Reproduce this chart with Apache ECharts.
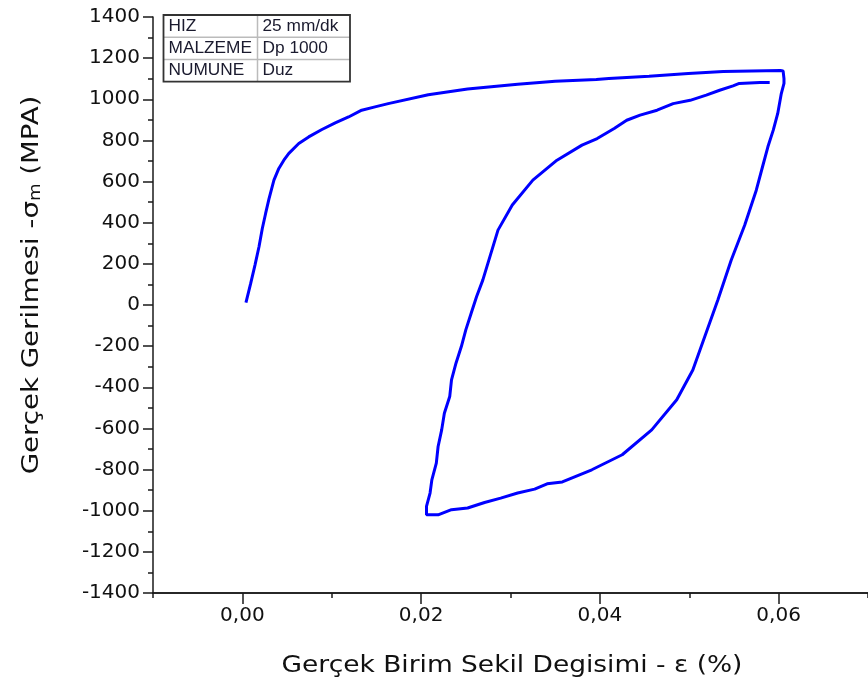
<!DOCTYPE html>
<html>
<head>
<meta charset="utf-8">
<script src="https://cdn.jsdelivr.net/npm/echarts@6/dist/echarts.min.js"></script>
<style>
html,body{margin:0;padding:0;background:#fff;}
#chart{width:868px;height:693px;}
</style>
</head>
<body>
<div id="chart"></div>
<script>
// Loading branch (strain, stress)
const loadStrain = [0.0004,0.00093,0.00141,0.00186,0.00223,0.0026,0.00297,0.00353,0.00408,0.00464,0.0052,0.00631,0.00742,0.0089,0.01039,0.01188,0.01335,0.01484,0.01632,0.0208,0.0252,0.0308,0.035,0.0396,0.041,0.0455,0.0499,0.0538,0.0602,0.0605];
const loadStress = [12,105,194,283,372,445,515,607,664,704,737,785,817,853,885,914,947,963,979,1022,1050,1073,1088,1096,1101,1112,1125,1135,1140,1138];
// Unloading branch (right side and bottom)
const unloadStrain = [0.0606,0.0606,0.0603,0.0599,0.0594,0.0588,0.0582,0.0575,0.0562,0.0547,0.0532,0.0518,0.0504,0.0486,0.0458,0.0425,0.0391,0.0358,0.0341,0.0327,0.0308,0.0289,0.0271,0.0252,0.0234,0.0219,0.0206];
const unloadStress = [1100,1077,1028,931,850,769,672,558,388,219,24,-146,-316,-461,-607,-728,-801,-860,-869,-895,-914,-939,-960,-987,-995,-1020,-1020];
// Reloading branch (left side and inner top)
const reloadStrain = [0.0206,0.021,0.0212,0.0217,0.0219,0.0223,0.0226,0.0232,0.0234,0.0239,0.0245,0.025,0.0256,0.0262,0.0269,0.0286,0.0302,0.0325,0.0352,0.038,0.0397,0.0416,0.043,0.0445,0.0464,0.0482,0.0501,0.0519,0.0534,0.0549,0.0556,0.0579,0.059];
const reloadStress = [-979,-914,-850,-769,-688,-607,-526,-445,-364,-283,-202,-121,-40,40,121,364,486,607,704,777,809,858,898,923,947,979,995,1020,1044,1065,1077,1081,1081];

const xMajorTicks = [0, 0.02, 0.04, 0.06];
const tableLabels = ['HIZ','MALZEME','NUMUNE'];
const tableValues = ['25 mm/dk','Dp 1000','Duz'];

const xMin = -0.01, xMax = 0.07, xStep = 0.01;
const yMin = -1400, yMax = 1400, yInterval = 200;

const data = [];
loadStrain.forEach((v,i)=>data.push([v, loadStress[i]]));
unloadStrain.forEach((v,i)=>data.push([v, unloadStress[i]]));
reloadStrain.forEach((v,i)=>data.push([v, reloadStress[i]]));

const axisColor = '#1a1a1a';
const labelFont = {fontFamily:'DejaVu Sans', fontSize:20, color:'#111'};

const chart = echarts.init(document.getElementById('chart'), null, {renderer:'canvas'});

// table graphics
const tbl = {left:163.5, top:15, w:186.5, rowH:22.2, col:94};
const tableEls = [];
for (let r=1;r<3;r++){
  tableEls.push({type:'line', shape:{x1:tbl.left, y1:tbl.top+r*tbl.rowH, x2:tbl.left+tbl.w, y2:tbl.top+r*tbl.rowH}, style:{stroke:'#bbbbbb', lineWidth:1.5}, z:10});
}
tableEls.push({type:'line', shape:{x1:tbl.left+tbl.col, y1:tbl.top, x2:tbl.left+tbl.col, y2:tbl.top+3*tbl.rowH}, style:{stroke:'#bbbbbb', lineWidth:1.5}, z:10});
tableEls.push({type:'rect', shape:{x:tbl.left, y:tbl.top, width:tbl.w, height:3*tbl.rowH}, style:{fill:'none', stroke:'#333', lineWidth:1.8}, z:11});
tableLabels.forEach((t,i)=>{
  tableEls.push({type:'text', x:tbl.left+5, y:tbl.top+(i+0.5)*tbl.rowH, scaleX:1.08, style:{text:t, fontFamily:'Liberation Sans', fontSize:16, fill:'#1a1a2e', verticalAlign:'middle', align:'left'}, z:12});
  tableEls.push({type:'text', x:tbl.left+tbl.col+5, y:tbl.top+(i+0.5)*tbl.rowH, scaleX:1.08, style:{text:tableValues[i], fontFamily:'Liberation Sans', fontSize:16, fill:'#1a1a2e', verticalAlign:'middle', align:'left'}, z:12});
});

const option = {
  animation:false,
  backgroundColor:'#fff',
  grid:{left:153, top:17, right:-4.4, bottom:100, containLabel:false},
  xAxis:[
    {type:'value', position:'bottom', min:xMin, max:xMax, interval:xStep,
     axisLine:{show:true, onZero:false, lineStyle:{color:axisColor, width:1.5}},
     axisTick:{show:true, length:5, lineStyle:{color:axisColor, width:1.5}},
     axisLabel:{show:false}, splitLine:{show:false}},
    {type:'value', position:'bottom', offset:0, min:xMin, max:xMax, interval:xStep,
     axisLine:{show:true, onZero:false, lineStyle:{color:axisColor, width:1.5}},
     axisTick:{show:true, length:11, customValues:xMajorTicks, lineStyle:{color:axisColor, width:1.5}},
     axisLabel:{show:true, margin:13, customValues:xMajorTicks, ...labelFont,
       formatter:v=> v.toFixed(2).replace('.',',')},
     splitLine:{show:false}}
  ],
  yAxis:{type:'value', min:yMin, max:yMax, interval:yInterval,
     axisLine:{show:true, onZero:false, lineStyle:{color:axisColor, width:1.5}},
     axisTick:{show:true, length:10, lineStyle:{color:axisColor, width:1.5}},
     minorTick:{show:true, splitNumber:2, length:5, lineStyle:{color:axisColor, width:1.5}},
     axisLabel:{margin:13, ...labelFont, formatter:v=>String(v)},
     splitLine:{show:false}},
  graphic:[
    {type:'text', x:512, y:666, scaleX:1.15, style:{text:'Gerçek Birim Sekil Degisimi - ε (%)', fontFamily:'DejaVu Sans', fontSize:23, fill:'#111', align:'center', verticalAlign:'middle'}},
    {type:'text', x:32, y:285, rotation:Math.PI/2, scaleX:1.2, style:{text:'Gerçek Gerilmesi -σ{s|m} (MPA)', rich:{s:{fontFamily:'DejaVu Sans', fontSize:15, fill:'#111', verticalAlign:'bottom'}}, fontFamily:'DejaVu Sans', fontSize:23, fill:'#111', align:'center', verticalAlign:'middle'}},
    ...tableEls
  ],
  series:[
    {type:'line', xAxisIndex:0, data:data, showSymbol:false, symbol:'none',
     lineStyle:{color:'#0000ff', width:3}, smooth:false}
  ]
};
chart.setOption(option);
</script>
</body>
</html>
